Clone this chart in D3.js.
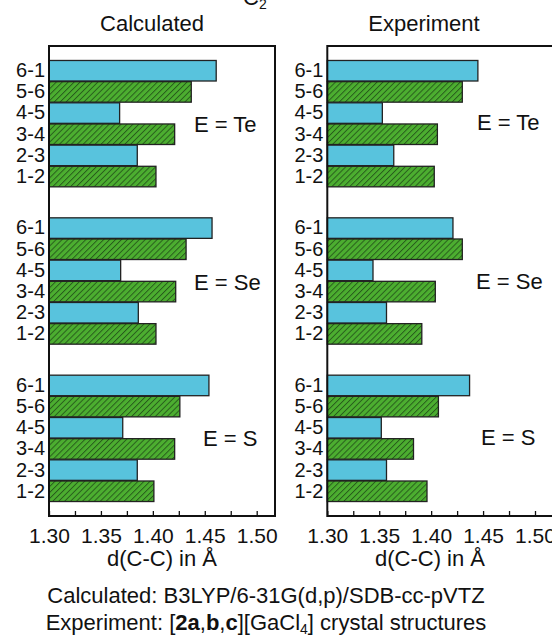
<!DOCTYPE html>
<html><head><meta charset="utf-8">
<script src="https://cdn.jsdelivr.net/npm/d3@7/dist/d3.min.js"></script>
<style>
body{margin:0;background:#fff;}
svg{display:block;}
text{font-family:"Liberation Sans",Arial,sans-serif;fill:#111;}
</style></head>
<body>
<svg id="chart" width="552" height="643"></svg>
<script>
// ---- data ----
const bonds = ["6-1","5-6","4-5","3-4","2-3","1-2"];
const groups = ["Te","Se","S"];
const calcTe = [1.461,1.437,1.368,1.421,1.385,1.403];
const calcSe = [1.457,1.432,1.369,1.422,1.386,1.403];
const calcS  = [1.454,1.426,1.371,1.421,1.385,1.401];
const expTe  = [1.445,1.430,1.353,1.406,1.364,1.403];
const expSe  = [1.421,1.430,1.344,1.404,1.357,1.391];
const expS   = [1.437,1.407,1.352,1.383,1.357,1.396];
const tickValues = [1.30,1.325,1.35,1.375,1.40,1.425,1.45,1.475,1.50];
const tickLabels = ["1.30","","1.35","","1.40","","1.45","","1.50"];
const panelTitles = ["Calculated","Experiment"];

const panels = [
  {title: panelTitles[0], data: {Te: calcTe, Se: calcSe, S: calcS}, x0: 49, x1: 275, titleX: 152, labX: 162},
  {title: panelTitles[1], data: {Te: expTe, Se: expSe, S: expS}, x0: 327.3, x1: 553.3, titleX: 424, labX: 430}
];
const labelPos = [
  {Te:[194,131.5], Se:[194,290], S:[203,446]},
  {Te:[477,130], Se:[476,288.5], S:[481,445]}
];

const svg = d3.select("#chart");
const defs = svg.append("defs");
const pat = defs.append("pattern").attr("id","hatch").attr("patternUnits","userSpaceOnUse")
  .attr("width",4.2).attr("height",8).attr("patternTransform","rotate(45)");
pat.append("rect").attr("width",4.2).attr("height",8).attr("fill","#4cae30");
pat.append("line").attr("x1",0.5).attr("y1",0).attr("x2",0.5).attr("y2",8)
  .attr("stroke","#24561a").attr("stroke-width",0.9);

const blue = "#58c3dd";
const frameTop = 46, frameBottom = 516;

const gy = d3.scaleBand().domain(groups).range([frameTop,frameBottom]).paddingInner(0.197).paddingOuter(0.092);
const ry = d3.scaleBand().domain(bonds).range([0,gy.bandwidth()]).paddingInner(0.03);

// C2 heading (cut off at top, as in the reference)
const c2 = svg.append("text").attr("x",243).attr("y",5).attr("font-size",22);
c2.append("tspan").text("C");
c2.append("tspan").attr("dy",4).attr("font-size",14).text("2");

panels.forEach((p,pi)=>{
  const x = d3.scaleLinear().domain([1.30, 1.30 + (p.x1-p.x0)/1038.5]).range([p.x0,p.x1]);
  const g = svg.append("g");
  groups.forEach(gr=>{
    const vals = p.data[gr];
    const gg = g.append("g").attr("transform",`translate(0,${gy(gr)})`);
    gg.selectAll("rect").data(bonds).join("rect")
      .attr("x", x(1.30))
      .attr("y", d=>ry(d))
      .attr("width", (d,i)=>x(vals[i]) - x(1.30))
      .attr("height", ry.bandwidth())
      .attr("fill",(d,i)=> i%2===0 ? blue : "url(#hatch)")
      .attr("stroke","#222").attr("stroke-width",1.3);
    const yax = d3.axisLeft(ry).tickSize(0).tickPadding(4);
    const ya = gg.append("g").attr("transform",`translate(${p.x0},0)`).call(yax);
    ya.select(".domain").remove();
    ya.selectAll("text").attr("font-size",20).attr("font-family","Liberation Sans, Arial, sans-serif").attr("fill","#111");
    const lp = labelPos[pi][gr];
    svg.append("text").attr("x",lp[0]).attr("y",lp[1]).attr("font-size",22).text("E = " + gr);
  });
  // frame
  svg.append("rect").attr("x",p.x0).attr("y",frameTop).attr("width",p.x1-p.x0).attr("height",frameBottom-frameTop)
    .attr("fill","none").attr("stroke","#111").attr("stroke-width",2);
  // x axis
  const xax = d3.axisBottom(x).tickValues(tickValues).tickSize(0).tickPadding(0)
    .tickFormat((d,i)=>tickLabels[i]);
  const xa = svg.append("g").attr("transform",`translate(0,${frameBottom})`).call(xax);
  xa.select(".domain").remove();
  xa.selectAll(".tick line").remove();
  xa.selectAll(".tick").append("line").attr("y1",-1).attr("y2",-5).attr("stroke","#111").attr("stroke-width",1.3);
  xa.selectAll("text").attr("font-size",21).attr("font-family","Liberation Sans, Arial, sans-serif")
    .attr("fill","#111").attr("dy",null).attr("y",27);
  svg.append("text").attr("x",p.titleX).attr("y",31).attr("text-anchor","middle").attr("font-size",22).text(p.title);
  svg.append("text").attr("x",p.labX).attr("y",566).attr("text-anchor","middle").attr("font-size",22).text("d(C-C) in Å");
});

svg.append("text").attr("x",266).attr("y",603).attr("text-anchor","middle").attr("font-size",22)
  .text("Calculated: B3LYP/6-31G(d,p)/SDB-cc-pVTZ");
const ex = svg.append("text").attr("x",266).attr("y",630).attr("text-anchor","middle").attr("font-size",22);
ex.append("tspan").text("Experiment: [");
ex.append("tspan").attr("font-weight","bold").text("2a");
ex.append("tspan").text(",");
ex.append("tspan").attr("font-weight","bold").text("b");
ex.append("tspan").text(",");
ex.append("tspan").attr("font-weight","bold").text("c");
ex.append("tspan").text("][GaCl");
ex.append("tspan").attr("font-size",14).attr("dy",4).text("4");
ex.append("tspan").attr("dy",-4).text("] crystal structures");
</script>
</body></html>
